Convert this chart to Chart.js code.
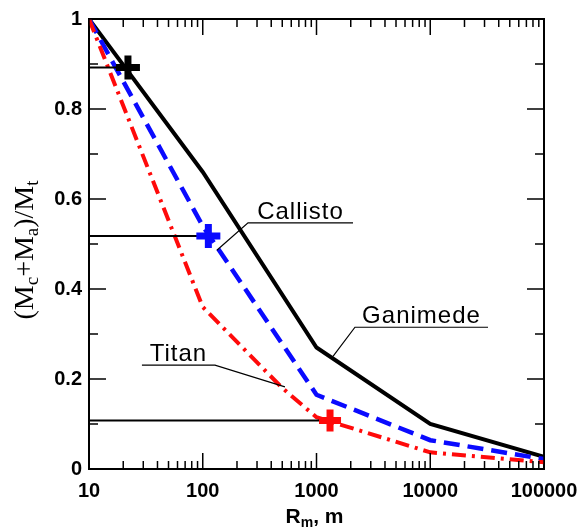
<!DOCTYPE html>
<html><head><meta charset="utf-8">
<script src="https://cdn.jsdelivr.net/npm/chart.js@4.4.0/dist/chart.umd.min.js"></script>
<style>html,body{margin:0;padding:0;background:#fff;}#wrap{width:581px;height:529px;position:relative;}</style>
</head><body><div id="wrap"><canvas id="c" width="581" height="529"></canvas></div>
<script>
// ---- data ----
const radii = [10, 100, 1000, 10000, 100000];
const ganimede = [1, 0.66, 0.27, 0.10, 0.027];
const callisto = [1, 0.54, 0.165, 0.064, 0.022];
const titanRadii = [10, 100, 500, 1000, 10000, 100000];
const titan = [1, 0.36, 0.18, 0.115, 0.037, 0.015];
const markerRadii = [22, 112, 1315];
const markerValues = [0.892, 0.518, 0.108];
const xTickLabels = ['10', '100', '1000', '10000', '100000'];
const yTickLabels = ['0', '0.2', '0.4', '0.6', '0.8', '1'];
const labelNames = ['Callisto', 'Titan', 'Ganimede'];
// leader lines: point near curve, elbow, end of underline (data coords)
const leaderCallisto = [[133, 0.486], [250, 0.547], [2094, 0.547]];
const leaderTitan = [[528, 0.1824], [128, 0.2308], [29.2, 0.2308]];
const leaderGanimede = [[1396, 0.2505], [2178, 0.315], [32200, 0.315]];

const BLACK = '#000000', BLUE = '#0a0aff', RED = '#ff0a0a';
const pts = (xs, ys) => xs.map((x, i) => ({x: x, y: ys[i]}));
const lead = arr => arr.map(p => ({x: p[0], y: p[1]}));
const markerColors = [BLACK, BLUE, RED];

const datasets = [];
markerRadii.forEach((r, i) => {
  datasets.push({data: [{x: r, y: markerValues[i]}], showLine: false, pointStyle: 'cross',
    pointRadius: i === 2 ? 11 : 12, pointBorderWidth: 7, pointBorderColor: markerColors[i],
    pointBackgroundColor: markerColors[i], order: 0});
});
markerRadii.forEach((r, i) => {
  datasets.push({data: [{x: 10, y: markerValues[i]}, {x: r, y: markerValues[i]}], showLine: true,
    borderColor: BLACK, borderWidth: 2, pointRadius: 0, order: 2});
});
datasets.push({data: pts(titanRadii, titan), showLine: true, borderColor: RED, borderWidth: 4,
  borderDash: [14, 6, 3, 6], pointRadius: 0, order: 3});
datasets.push({data: pts(radii, callisto), showLine: true, borderColor: BLUE, borderWidth: 4.5,
  borderDash: [16, 8], pointRadius: 0, order: 3});
datasets.push({data: pts(radii, ganimede), showLine: true, borderColor: BLACK, borderWidth: 4,
  pointRadius: 0, order: 3});
[leaderCallisto, leaderTitan, leaderGanimede].forEach(l => {
  datasets.push({data: lead(l), showLine: true, borderColor: BLACK, borderWidth: 1.2, pointRadius: 0, order: 1});
});

const decades = xTickLabels.map(Number);
function logTicks() {
  const t = [];
  for (let e = 1; e <= 4; e++) for (let m = 1; m <= 9; m++) t.push({value: m * Math.pow(10, e)});
  t.push({value: 100000});
  return t;
}
function linTicks() {
  const t = [];
  for (let k = 0; k <= 10; k++) t.push({value: k / 10});
  return t;
}
function noPad(s) { s.paddingTop = 0; s.paddingBottom = 0; s.paddingLeft = 0; s.paddingRight = 0; }

const sansBold = {family: "'Liberation Sans', Arial, sans-serif", size: 20, weight: 'bold'};

const decor = {
  id: 'decor',
  afterDatasetsDraw(chart) {
    const ctx = chart.ctx, a = chart.chartArea, x = chart.scales.x, y = chart.scales.y;
    ctx.save();
    ctx.strokeStyle = BLACK; ctx.lineWidth = 1.5; ctx.lineCap = 'butt';
    const line = (x1, y1, x2, y2) => { ctx.beginPath(); ctx.moveTo(x1, y1); ctx.lineTo(x2, y2); ctx.stroke(); };
    x.ticks.forEach(t => {
      const px = x.getPixelForValue(t.value);
      const L = decades.indexOf(t.value) >= 0 ? 16 : 8;
      line(px, a.bottom, px, a.bottom - L);
      line(px, a.top, px, a.top + L);
    });
    y.ticks.forEach((t, k) => {
      const py = y.getPixelForValue(t.value);
      const L = k % 2 === 0 ? 17 : 9;
      line(a.left, py, a.left + L, py);
      line(a.right, py, a.right - L, py);
    });
    // series labels
    ctx.fillStyle = BLACK;
    ctx.font = "24px 'Liberation Sans', Arial, sans-serif";
    ctx.letterSpacing = '1px';
    ctx.textAlign = 'center'; ctx.textBaseline = 'alphabetic';
    [leaderCallisto, leaderTitan, leaderGanimede].forEach((l, i) => {
      const x1 = x.getPixelForValue(l[1][0]), x2 = x.getPixelForValue(l[2][0]);
      const py = y.getPixelForValue(l[1][1]);
      ctx.fillText(labelNames[i], (x1 + x2) / 2, py - 4);
    });
    ctx.letterSpacing = '0px';
    // y title
    ctx.save();
    ctx.translate(a.left - 66, (a.top + a.bottom) / 2 + 6);
    ctx.rotate(-Math.PI / 2);
    const segs = [['(M', 0], ['c', 1], ['+M', 0], ['a', 1], [')/M', 0], ['t', 1]];
    const mainF = "28px 'Liberation Serif', 'Times New Roman', serif";
    const subF = "19px 'Liberation Serif', 'Times New Roman', serif";
    let total = 0;
    segs.forEach(s => { ctx.font = s[1] ? subF : mainF; total += ctx.measureText(s[0]).width; });
    let cx = -total / 2;
    ctx.textAlign = 'left';
    segs.forEach(s => {
      ctx.font = s[1] ? subF : mainF;
      ctx.fillText(s[0], cx, s[1] ? 15 : 10);
      cx += ctx.measureText(s[0]).width;
    });
    ctx.restore();
    // x title
    const xs = [['R', 0], ['m', 1], [', m', 0]];
    const mF = "bold 21px 'Liberation Sans', Arial, sans-serif";
    const sF = "bold 14px 'Liberation Sans', Arial, sans-serif";
    let tw = 0;
    xs.forEach(s => { ctx.font = s[1] ? sF : mF; tw += ctx.measureText(s[0]).width; });
    let sx = (a.left + a.right) / 2 - 2 - tw / 2;
    ctx.textAlign = 'left';
    xs.forEach(s => {
      ctx.font = s[1] ? sF : mF;
      ctx.fillText(s[0], sx, s[1] ? 527 : 523);
      sx += ctx.measureText(s[0]).width;
    });
    ctx.restore();
  }
};

new Chart(document.getElementById('c'), {
  type: 'scatter',
  data: {datasets: datasets},
  options: {
    responsive: false, animation: false, devicePixelRatio: 1,
    layout: {padding: {top: 14, right: 37, left: 0, bottom: 0}},
    plugins: {legend: {display: false}, tooltip: {enabled: false}},
    scales: {
      x: {
        type: 'logarithmic', position: 'bottom', min: 10, max: 100000,
        afterBuildTicks: s => { s.ticks = logTicks(); },
        afterFit: s => { s.height = 60; noPad(s); },
        ticks: {autoSkip: false, maxRotation: 0, minRotation: 0, color: BLACK, font: sansBold, padding: 10,
          callback: v => { const i = decades.indexOf(v); return i >= 0 ? xTickLabels[i] : ''; }},
        grid: {display: false, drawTicks: false},
        border: {display: true, color: BLACK, width: 2}
      },
      x2: {
        type: 'logarithmic', position: 'top', min: 10, max: 100000,
        afterFit: s => { s.height = 0; noPad(s); },
        ticks: {display: false}, grid: {display: false, drawTicks: false},
        border: {display: true, color: BLACK, width: 2}
      },
      y: {
        type: 'linear', position: 'left', min: 0, max: 1,
        afterBuildTicks: s => { s.ticks = linTicks(); },
        afterFit: s => { s.width = 89; noPad(s); },
        ticks: {autoSkip: false, color: BLACK, font: sansBold, padding: 7,
          callback: (v, k) => k % 2 === 0 ? yTickLabels[k / 2] : ''},
        grid: {display: false, drawTicks: false},
        border: {display: true, color: BLACK, width: 2}
      },
      y2: {
        type: 'linear', position: 'right', min: 0, max: 1,
        afterFit: s => { s.width = 0; noPad(s); },
        ticks: {display: false}, grid: {display: false, drawTicks: false},
        border: {display: true, color: BLACK, width: 2}
      }
    }
  },
  plugins: [decor]
});
</script></body></html>
